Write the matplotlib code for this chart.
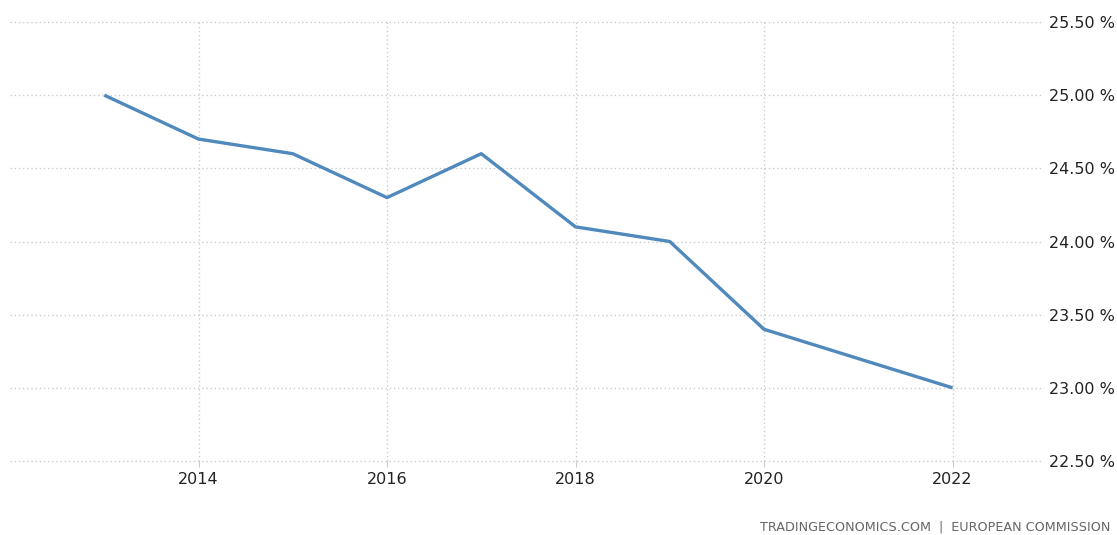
import matplotlib
matplotlib.use("Agg")
import matplotlib.pyplot as plt
from matplotlib.ticker import FixedLocator

years = [2013, 2014, 2015, 2016, 2017, 2018, 2019, 2020, 2021, 2022]
values = [25.0, 24.7, 24.6, 24.3, 24.6, 24.1, 24.0, 23.4, 23.2, 23.0]
xticks = [2014, 2016, 2018, 2020, 2022]
yticks = [22.5, 23.0, 23.5, 24.0, 24.5, 25.0, 25.5]
ylabels = ["%.2f %%" % v for v in yticks]

fig = plt.figure(figsize=(11.17, 5.35), dpi=100)
W, H = 1117, 535
ax = fig.add_axes([10 / W, 1 - 461 / H, (1043 - 10) / W, (461 - 22) / H])
ax.plot(years, values, color="#5089bb", lw=2.4, solid_capstyle="butt", zorder=3)
ax.set_xlim(2012.0, 2022.96)
ax.set_ylim(22.5, 25.5)
ax.xaxis.set_major_locator(FixedLocator(xticks))
ax.set_xticklabels([str(x) for x in xticks])
ax.set_yticks(yticks)
ax.set_yticklabels(ylabels)
ax.yaxis.tick_right()
for s in ax.spines.values():
    s.set_visible(False)
ax.grid(True, color="#cccccc", ls=(0, (1, 2)), lw=1)
for gl in ax.get_xgridlines() + ax.get_ygridlines():
    gl.set_clip_on(False)
ax.tick_params(axis="y", length=0, pad=4, labelsize=11.5, labelcolor="#222222")
ax.tick_params(axis="x", length=4, color="#cccccc", pad=4, labelsize=11.5, labelcolor="#222222")
fig.text(1110 / W, 1 - 527 / H, "TRADINGECONOMICS.COM  |  EUROPEAN COMMISSION",
         ha="right", va="center", fontsize=9.2, color="#666666")
fig.savefig("out.png", dpi=100)
